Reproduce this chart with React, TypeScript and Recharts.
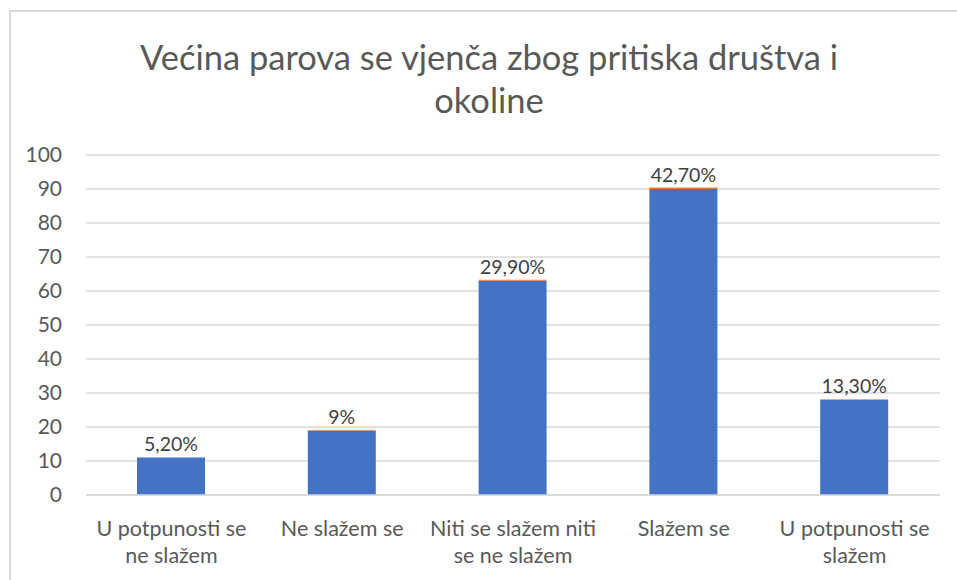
import React from 'react';
import { BarChart, Bar, XAxis, YAxis, CartesianGrid, LabelList } from 'recharts';

const categories = [
  ['U potpunosti se', 'ne slažem'],
  ['Ne slažem se'],
  ['Niti se slažem niti', 'se ne slažem'],
  ['Slažem se'],
  ['U potpunosti se', 'slažem'],
];
const counts = [11, 19, 63, 90, 28];
const shares = [0.052, 0.09, 0.299, 0.427, 0.133];
const shareLabels = ['5,20%', '9%', '29,90%', '42,70%', '13,30%'];
const yTicks = [0, 10, 20, 30, 40, 50, 60, 70, 80, 90, 100];

const FONT = 'Lato, "Open Sans", sans-serif';
const TEXT = '#595959';

const data = categories.map((c, i) => ({
  name: c.join(' '),
  count: counts[i],
  share: shares[i],
  label: shareLabels[i],
}));

const CategoryTick = (props: any) => {
  const { x, y, index } = props;
  const lines = categories[index] || [];
  return (
    <text x={x} y={y} textAnchor="middle" fill={TEXT} fontSize={21.5} fontFamily={FONT}>
      {lines.map((l, i) => (
        <tspan key={i} x={x} dy={i === 0 ? 33 : 27}>{l}</tspan>
      ))}
    </text>
  );
};

export default function App() {
  return (
    <div style={{ position: 'absolute', left: 0, top: 0, width: 957, height: 580, overflow: 'hidden', background: '#fff' }}>
      <div style={{ position: 'absolute', left: 9, top: 10, width: 1000, height: 600, borderLeft: '2px solid #d9d9d9', borderTop: '2px solid #d9d9d9' }} />
      <div style={{ position: 'absolute', left: 0, top: 35, width: 978, textAlign: 'center', fontFamily: FONT, fontSize: 34.5, lineHeight: '43px', color: TEXT }}>
        Većina parova se vjenča zbog pritiska društva i<br />okoline
      </div>
      <div style={{ position: 'absolute', left: 0, top: 0 }}>
        <BarChart width={957} height={580} data={data} margin={{ top: 155, right: 17, bottom: 55, left: 20 }}>
          <CartesianGrid vertical={false} stroke="#d9d9d9" strokeWidth={1.5} />
          <XAxis dataKey="name" height={30} tick={<CategoryTick />} tickLine={false} axisLine={{ stroke: '#d9d9d9', strokeWidth: 1.5 }} interval={0} />
          <YAxis width={66} domain={[0, 100]} ticks={yTicks} axisLine={false} tickLine={false} tickSize={0} tickMargin={24}
            tick={{ fill: TEXT, fontSize: 21, fontFamily: FONT }} />
          <Bar dataKey="count" stackId="a" fill="#4472C4" barSize={68} isAnimationActive={false} />
          <Bar dataKey="share" stackId="a" fill="#ED7D31" barSize={68} isAnimationActive={false}>
            <LabelList dataKey="label" position="top" offset={6} fill="#404040" fontSize={19.5} fontFamily={FONT} />
          </Bar>
        </BarChart>
      </div>
    </div>
  );
}
